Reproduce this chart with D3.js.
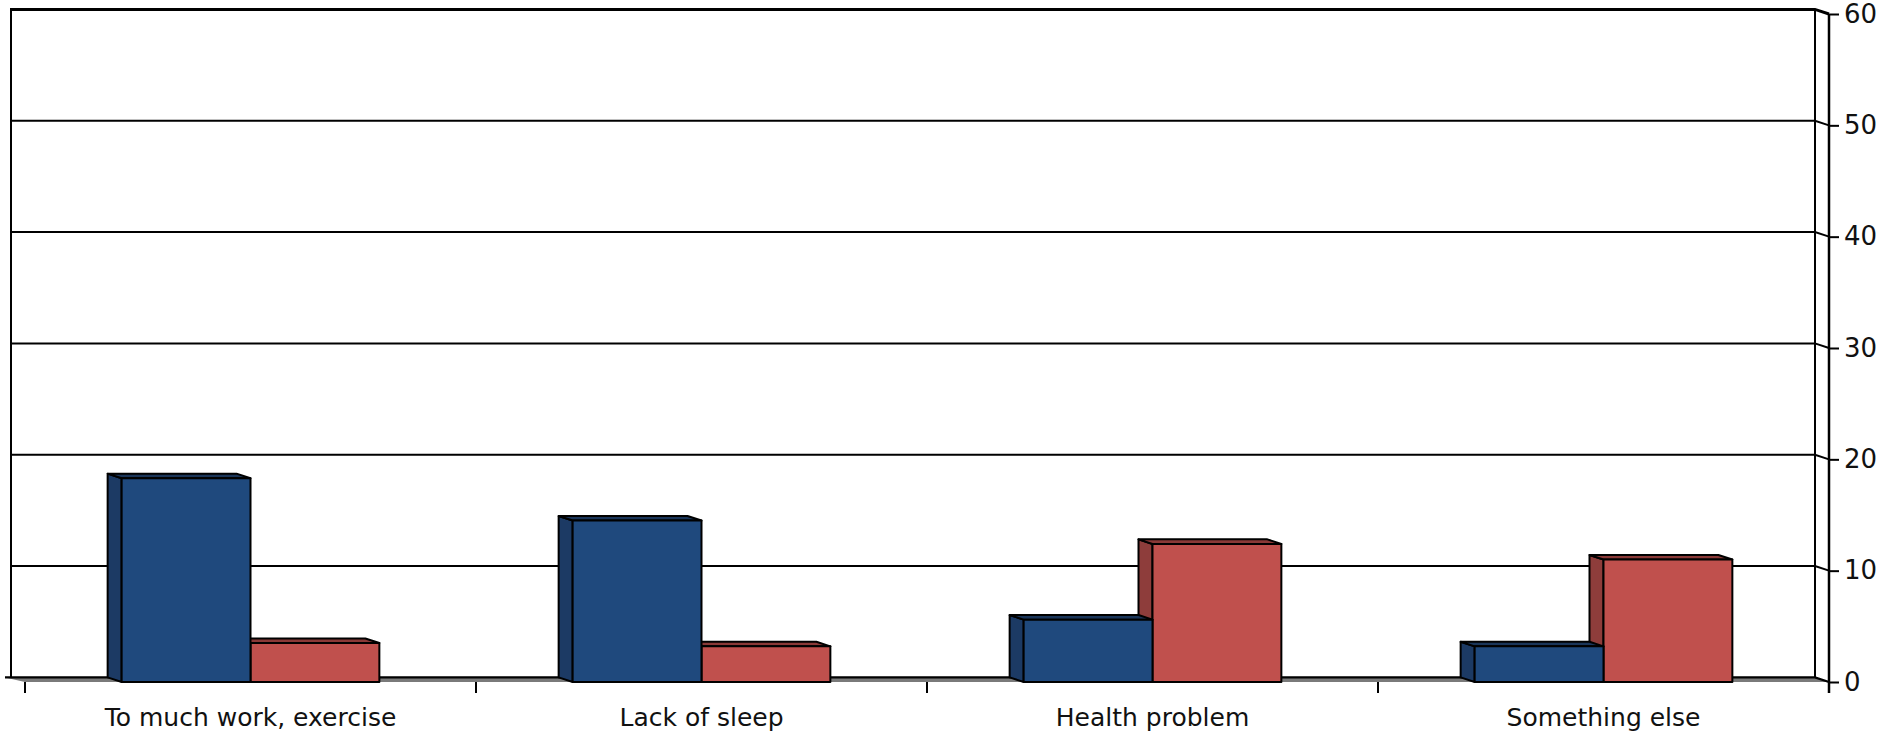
<!DOCTYPE html>
<html>
<head>
<meta charset="utf-8">
<script src="https://cdn.jsdelivr.net/npm/d3@7"></script>
<style>
html,body{margin:0;padding:0;background:#fff;}
svg{display:block;}
text{font-family:"DejaVu Sans",sans-serif;fill:#111;}
</style>
</head>
<body>
<svg id="chart" width="1880" height="734"></svg>
<script>
const categories = ["To much work, exercise", "Lack of sleep", "Health problem", "Something else"];
const series = ["Series A", "Series B"];
const seriesA = [18.3, 14.5, 5.6, 3.2];
const seriesB = [3.5, 3.2, 12.4, 11.0];
const yTicks = [0, 10, 20, 30, 40, 50, 60];
const seriesColors = ["#1F497D", "#C0504D"];
const sideColors = ["#1C3A64", "#8E3D3B"];
const topColors = ["#1A3559", "#8A3937"];

const svg = d3.select("#chart");
const W = 1880, H = 734;
// front plane
const fx0 = 25, fx1 = 1829, fy0 = 682, fy1 = 14;
const dx = -14, dy = -4.6; // offset to back plane

const x = d3.scaleBand().domain(categories).range([fx0, fx1]).paddingInner(0).paddingOuter(0);
const xs = d3.scaleBand().domain(series).range([0, x.bandwidth()]).paddingInner(0).paddingOuter(0.75);
const y = d3.scaleLinear().domain([0, 60]).range([fy0, fy1]);

const data = categories.map((c, i) => ({c, vals: [seriesA[i], seriesB[i]]}));

// back wall
const bx0 = fx0 + dx, bx1 = fx1 + dx;
svg.append("rect").attr("x", bx0).attr("y", y(60) + dy).attr("width", bx1 - bx0).attr("height", y(0) - y(60)).attr("fill", "#fff");

// gridlines on back wall + side strip
const grid = svg.append("g");
yTicks.filter(v => v > 0).forEach(v => {
  grid.append("path")
    .attr("d", `M${bx0},${y(v) + dy}L${bx1},${y(v) + dy}L${fx1},${y(v)}`)
    .attr("fill", "none").attr("stroke", "#000").attr("stroke-width", v === 60 ? 3 : 2);
});
// left wall edge and right back edge
svg.append("line").attr("x1", bx0).attr("x2", bx0).attr("y1", y(60) + dy - 1.5).attr("y2", y(0) + dy).attr("stroke", "#000").attr("stroke-width", 2);
svg.append("line").attr("x1", bx1).attr("x2", bx1).attr("y1", y(60) + dy).attr("y2", y(0) + dy).attr("stroke", "#000").attr("stroke-width", 2);

// floor
svg.append("path")
  .attr("d", `M${bx0 - 6},${y(0) + dy}L${bx1},${y(0) + dy}L${fx1},${y(0)}L${fx0},${y(0)}Z`)
  .attr("fill", "#7a7a7a");
svg.append("path")
  .attr("d", `M${bx0 - 6},${y(0) + dy}L${bx1},${y(0) + dy}L${fx1},${y(0)}`)
  .attr("fill", "none").attr("stroke", "#000").attr("stroke-width", 2.2);

// bars: draw red first then blue so blue front covers red side
const bars = svg.append("g");
[1, 0].forEach(si => {
  data.forEach(d => {
    const v = d.vals[si];
    const x0 = x(d.c) + xs(series[si]);
    const x1 = x0 + xs.bandwidth();
    const yt = y(v), yb = y(0);
    const g = bars.append("g").attr("stroke", "#000").attr("stroke-width", 2).attr("stroke-linejoin", "round");
    // left side face
    g.append("path").attr("d", `M${x0},${yb}L${x0 + dx},${yb + dy}L${x0 + dx},${yt + dy}L${x0},${yt}Z`).attr("fill", sideColors[si]);
    // top face
    g.append("path").attr("d", `M${x0},${yt}L${x0 + dx},${yt + dy}L${x1 + dx},${yt + dy}L${x1},${yt}Z`).attr("fill", topColors[si]);
    // front face
    g.append("rect").attr("x", x0).attr("y", yt).attr("width", x1 - x0).attr("height", yb - yt).attr("fill", seriesColors[si]);
  });
});

// right value axis
const yAxis = d3.axisRight(y).tickValues(yTicks).tickSize(10).tickPadding(5).tickSizeOuter(0);
const ya = svg.append("g").attr("transform", `translate(${fx1},0)`).call(yAxis);
ya.select(".domain").remove();
ya.selectAll(".tick line").attr("stroke", "#000").attr("stroke-width", 2);
ya.selectAll(".tick text").attr("font-size", 26).attr("fill", "#111").attr("font-family", '"DejaVu Sans",sans-serif');
svg.append("line").attr("x1", fx1).attr("x2", fx1).attr("y1", y(60)).attr("y2", y(0) + 11).attr("stroke", "#000").attr("stroke-width", 2.5);

// category axis
const xAxis = d3.axisBottom(x).tickSize(0).tickPadding(26);
const xa = svg.append("g").attr("transform", `translate(0,${y(0)})`).call(xAxis);
xa.select(".domain").remove();
xa.selectAll(".tick text").attr("font-size", 25).attr("fill", "#111").attr("font-family", '"DejaVu Sans",sans-serif');
const bounds = categories.map(c => x(c)).concat([fx1]);
svg.append("g").selectAll("line").data(bounds).join("line")
  .attr("x1", d => d).attr("x2", d => d).attr("y1", y(0)).attr("y2", y(0) + 11)
  .attr("stroke", "#000").attr("stroke-width", 2);
</script>
</body>
</html>
